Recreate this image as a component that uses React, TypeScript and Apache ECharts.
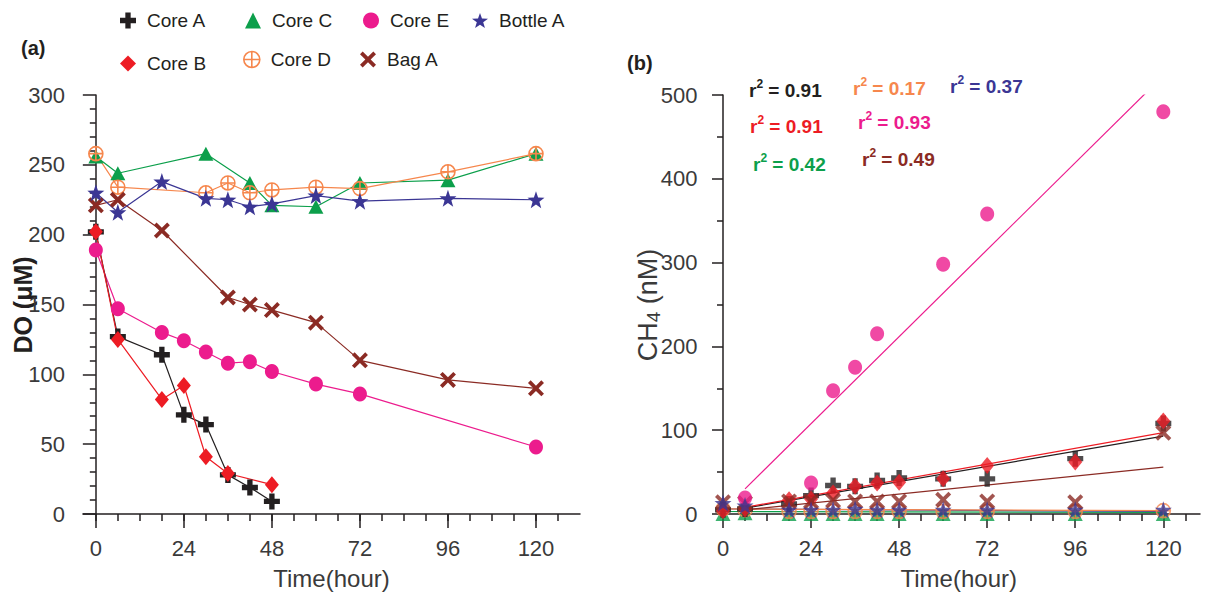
import React, { useEffect, useRef } from 'react';
import * as echarts from 'echarts';

const FONT = "'Liberation Sans', Arial, sans-serif";
const AXIS_COLOR = '#231f20';
const LABEL_COLOR = '#3a3a3a';

// ---- tick values (hours) ----
const MINOR_TICKS = [0, 6, 12, 18, 24, 30, 36, 42, 48, 54, 60, 66, 72, 78, 84, 90, 96, 102, 108, 114, 120, 126];
const MAJOR_TICKS = [0, 24, 48, 72, 96, 120];

// ---- panel (a): DO (uM) ----
const tA_coreA = [0, 6, 18, 24, 30, 36, 42, 48];
const doCoreA = [202, 127, 114, 71, 64, 28, 19, 9];
const tA_coreB = [0, 6, 18, 24, 30, 36, 48];
const doCoreB = [202, 125, 82, 92, 41, 29, 21];
const tA_coreC = [0, 6, 30, 42, 48, 60, 72, 96, 120];
const doCoreC = [256, 244, 258, 237, 221, 220, 237, 239, 258];
const tA_coreD = [0, 6, 30, 36, 42, 48, 60, 72, 96, 120];
const doCoreD = [258, 234, 230, 237, 230, 232, 234, 233, 245, 258];
const tA_coreE = [0, 6, 18, 24, 30, 36, 42, 48, 60, 72, 120];
const doCoreE = [189, 147, 130, 124, 116, 108, 109, 102, 93, 86, 48];
const tA_bottle = [0, 6, 18, 30, 36, 42, 48, 60, 72, 96, 120];
const doBottleA = [230, 216, 238, 226, 225, 220, 222, 228, 224, 226, 225];
const tA_bag = [0, 6, 18, 36, 42, 48, 60, 72, 96, 120];
const doBagA = [221, 225, 203, 155, 150, 146, 137, 110, 96, 90];

// ---- panel (b): CH4 (nM) ----
const tB = [0, 6, 18, 24, 30, 36, 42, 48, 60, 72, 96, 120];
const chCoreA = [5, 6, 12, 22, 34, 33, 40, 43, 42, 42, 66, 108];
const chCoreB = [4, 6, 17, 18, 25, 33, 37, 38, 42, 58, 62, 111];
const chCoreC = [0, 1, 0, 0, 0, 0, 0, 0, 0, 0, 0, 0];
const chCoreD = [6, 5, 3, 3, 3, 3, 3, 3, 3, 3, 3, 4];
const tB_coreE = [6, 24, 30, 36, 42, 60, 72, 120];
const chCoreE = [19, 37, 147, 175, 215, 298, 358, 480];
const chBottleA = [13, 10, 5, 5, 5, 6, 5, 5, 5, 5, 5, 5];
const chBagA = [14, 13, 15, 15, 16, 15, 15, 15, 17, 15, 14, 97];

// linear fit lines in (b): [start hour, start value], [end hour, end value]
const fitCoreA = [[6, 7], [120, 93]];
const fitCoreB = [[6, 8], [120, 97]];
const fitCoreC = [[0, 3], [120, 2]];
const fitCoreD = [[0, 6], [120, 4]];
const fitCoreE = [[6, 30], [120, 523]];
const fitBottleA = [[0, 6], [120, 3]];
const fitBagA = [[6, 5], [120, 56]];

// r^2 labels
const r2CoreA = '0.91';
const r2CoreB = '0.91';
const r2CoreC = '0.42';
const r2CoreD = '0.17';
const r2CoreE = '0.93';
const r2BottleA = '0.37';
const r2BagA = '0.49';

const COLORS: Record<string, string> = {
  'Core A': '#231f20',
  'Core B': '#ed1c24',
  'Core C': '#0c9f4b',
  'Core D': '#f6874d',
  'Core E': '#ec1b8d',
  'Bottle A': '#3b3694',
  'Bag A': '#8b2b24',
};

const PLUS = 'path://M-3,-9H3V-3H9V3H3V9H-3V3H-9V-3H-3Z';
const CROSS = 'path://M-9,-6L-6,-9L0,-3L6,-9L9,-6L3,0L9,6L6,9L0,3L-6,9L-9,6L-3,0Z';
const STAR = 'path://M0,-10L2.35,-3.24L9.51,-3.09L3.8,1.24L5.88,8.09L0,4L-5.88,8.09L-3.8,1.24L-9.51,-3.09L-2.35,-3.24Z';
const CIRCLE_PLUS = 'path://M0,-9A9,9,0,1,1,0,9A9,9,0,1,1,0,-9ZM0,-9L0,9M-9,0L9,0';

const MARKERS: Record<string, any> = {
  'Core A': { symbol: PLUS, size: 16, itemStyle: { color: COLORS['Core A'], borderWidth: 0 } },
  'Core B': { symbol: 'diamond', size: [14, 17], itemStyle: { color: COLORS['Core B'], borderWidth: 0 } },
  'Core C': { symbol: 'triangle', size: [15, 14], itemStyle: { color: COLORS['Core C'], borderWidth: 0 } },
  'Core D': { symbol: CIRCLE_PLUS, size: 14, itemStyle: { color: 'rgba(255,255,255,0)', borderColor: COLORS['Core D'], borderWidth: 1.6 } },
  'Core E': { symbol: 'circle', size: [14, 15], itemStyle: { color: COLORS['Core E'], borderWidth: 0 } },
  'Bottle A': { symbol: STAR, size: 17, itemStyle: { color: COLORS['Bottle A'], borderWidth: 0 } },
  'Bag A': { symbol: CROSS, size: 16, itemStyle: { color: COLORS['Bag A'], borderWidth: 0 } },
};

const pts = (ts: number[], vs: number[]) => ts.map((t, i) => [t, vs[i]]);

function lineSeriesA(name: string, ts: number[], vs: number[]) {
  const m = MARKERS[name];
  return {
    name, type: 'line', xAxisIndex: 0, yAxisIndex: 0,
    data: pts(ts, vs),
    symbol: m.symbol, symbolSize: m.size, itemStyle: m.itemStyle,
    lineStyle: { color: COLORS[name], width: 1.2 },
    z: 3,
  };
}
function scatterB(name: string, ts: number[], vs: number[]) {
  const m = MARKERS[name];
  return {
    name, type: 'scatter', xAxisIndex: 2, yAxisIndex: 1,
    data: pts(ts, vs),
    symbol: m.symbol, symbolSize: m.size, itemStyle: m.itemStyle,
    z: 3,
  };
}
function fitB(name: string, fit: number[][]) {
  return {
    name, type: 'line', xAxisIndex: 2, yAxisIndex: 1,
    data: fit, symbol: 'none', silent: true,
    lineStyle: { color: COLORS[name], width: 1.2 },
    z: 2,
  };
}

const lineStyleAxis = { color: AXIS_COLOR, width: 1.5 };

function xMinor(grid: number, min: number, max: number) {
  return {
    type: 'value', gridIndex: grid, min, max, position: 'bottom',
    axisLine: { show: true, onZero: false, lineStyle: lineStyleAxis },
    axisTick: { show: true, customValues: MINOR_TICKS, length: 7, lineStyle: lineStyleAxis },
    axisLabel: { show: false },
    splitLine: { show: false },
  };
}
function xMajor(grid: number, min: number, max: number) {
  return {
    type: 'value', gridIndex: grid, min, max, position: 'bottom',
    axisLine: { show: false, onZero: false },
    axisTick: { show: true, customValues: MAJOR_TICKS, length: 14, lineStyle: lineStyleAxis },
    axisLabel: { show: true, customValues: MAJOR_TICKS, fontSize: 22, margin: 23, color: LABEL_COLOR, fontFamily: FONT },
    splitLine: { show: false },
    name: 'Time(hour)', nameLocation: 'middle', nameGap: 52, nameMoveOverlap: false,
    nameTextStyle: { fontSize: 24, color: LABEL_COLOR, fontFamily: FONT },
  };
}

function legendItem(name: string, left: number, top: number) {
  const m = MARKERS[name];
  return {
    show: true, left, top, padding: 0, itemWidth: 16, itemHeight: 16, selectedMode: false,
    data: [{ name, icon: m.symbol, itemStyle: m.itemStyle }],
    textStyle: { fontSize: 19, fontFamily: FONT, color: '#231f20', padding: [0, 0, 0, 6] },
  };
}

function r2Text(x: number, y: number, value: string, color: string) {
  return {
    type: 'text', x, y, silent: true,
    style: {
      text: '{m|r}{s|2}{m| = ' + value + '}',
      fill: color, verticalAlign: 'middle', align: 'left',
      rich: {
        m: { fontSize: 19, fontWeight: 'bold', fontFamily: FONT, fill: color, lineHeight: 22, verticalAlign: 'bottom' },
        s: { fontSize: 12, fontWeight: 'bold', fontFamily: FONT, fill: color, lineHeight: 22, verticalAlign: 'top' },
      },
    },
  };
}

export default function App() {
  const ref = useRef<HTMLDivElement>(null);
  useEffect(() => {
    if (!ref.current) return;
    const chart = echarts.init(ref.current, null, { renderer: 'svg' });
    const option: any = {
      animation: false,
      backgroundColor: '#ffffff',
      grid: [
        { left: 83, top: 95, width: 497, height: 419, containLabel: false, outerBoundsMode: 'none' },
        { left: 717.5, top: 95, width: 482.5, height: 419, containLabel: false, outerBoundsMode: 'none' },
      ],
      xAxis: [xMinor(0, -3.5, 132), xMajor(0, -3.5, 132), xMinor(1, -1.5, 130), xMajor(1, -1.5, 130)],
      yAxis: [
        {
          type: 'value', gridIndex: 0, min: 0, max: 300, interval: 50,
          axisLine: { show: true, onZero: true, lineStyle: lineStyleAxis },
          axisTick: { show: true, length: 13, lineStyle: lineStyleAxis },
          minorTick: { show: true, splitNumber: 5, length: 6, lineStyle: lineStyleAxis },
          axisLabel: { fontSize: 22, margin: 18, color: LABEL_COLOR, fontFamily: FONT },
          splitLine: { show: false }, minorSplitLine: { show: false },
        },
        {
          type: 'value', gridIndex: 1, min: 0, max: 500, interval: 100,
          axisLine: { show: true, onZero: true, lineStyle: lineStyleAxis },
          axisTick: { show: true, length: 11, lineStyle: lineStyleAxis },
          minorTick: { show: true, splitNumber: 2, length: 6, lineStyle: lineStyleAxis },
          axisLabel: { fontSize: 22, margin: 20, color: LABEL_COLOR, fontFamily: FONT },
          splitLine: { show: false }, minorSplitLine: { show: false },
        },
      ],
      legend: [
        legendItem('Core A', 120, 11),
        legendItem('Core C', 245, 11),
        legendItem('Core E', 363, 11),
        legendItem('Bottle A', 472, 11),
        legendItem('Core B', 120, 54),
        legendItem('Core D', 243, 50),
        legendItem('Bag A', 360, 50),
      ],
      graphic: [
        { type: 'text', x: 21, y: 48, silent: true, style: { text: '(a)', font: `bold 20px ${FONT}`, fill: AXIS_COLOR, verticalAlign: 'middle' } },
        { type: 'text', x: 627, y: 63, silent: true, style: { text: '(b)', font: `bold 20px ${FONT}`, fill: AXIS_COLOR, verticalAlign: 'middle' } },
        {
          type: 'text', x: 23, y: 305, rotation: Math.PI / 2, silent: true,
          style: { text: 'DO (μM)', font: `bold 25px ${FONT}`, fill: AXIS_COLOR, align: 'center', verticalAlign: 'middle' },
        },
        {
          type: 'text', x: 648, y: 305, rotation: Math.PI / 2, silent: true,
          style: {
            text: 'CH{s|4} (nM)', fill: LABEL_COLOR, align: 'center', verticalAlign: 'middle',
            rich: {
              s: { fontSize: 19, fontFamily: FONT, fill: LABEL_COLOR, verticalAlign: 'bottom', lineHeight: 30 },
            },
            font: `27px ${FONT}`,
          },
        },
        r2Text(749, 89, r2CoreA, COLORS['Core A']),
        r2Text(853, 87, r2CoreD, COLORS['Core D']),
        r2Text(950, 85, r2BottleA, COLORS['Bottle A']),
        r2Text(750, 125, r2CoreB, COLORS['Core B']),
        r2Text(858, 121, r2CoreE, COLORS['Core E']),
        r2Text(753, 163, r2CoreC, COLORS['Core C']),
        r2Text(862, 158, r2BagA, COLORS['Bag A']),
      ],
      series: [
        lineSeriesA('Core C', tA_coreC, doCoreC),
        lineSeriesA('Core D', tA_coreD, doCoreD),
        lineSeriesA('Bag A', tA_bag, doBagA),
        lineSeriesA('Bottle A', tA_bottle, doBottleA),
        lineSeriesA('Core E', tA_coreE, doCoreE),
        lineSeriesA('Core A', tA_coreA, doCoreA),
        lineSeriesA('Core B', tA_coreB, doCoreB),

        fitB('Core C', fitCoreC),
        fitB('Bottle A', fitBottleA),
        fitB('Core D', fitCoreD),
        fitB('Bag A', fitBagA),
        fitB('Core A', fitCoreA),
        fitB('Core B', fitCoreB),
        fitB('Core E', fitCoreE),

        scatterB('Core C', tB, chCoreC),
        scatterB('Core D', tB, chCoreD),
        scatterB('Core A', tB, chCoreA),
        scatterB('Core B', tB, chCoreB),
        scatterB('Bag A', tB, chBagA),
        scatterB('Core E', tB_coreE, chCoreE),
        scatterB('Bottle A', tB, chBottleA),
      ],
    };
    chart.setOption(option);
    return () => chart.dispose();
  }, []);
  return <div ref={ref} style={{ position: 'absolute', left: 0, top: 0, width: 1211, height: 596 }} />;
}
